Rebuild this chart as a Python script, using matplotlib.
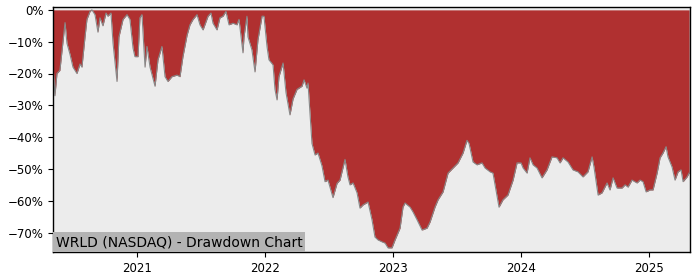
import matplotlib
matplotlib.use("Agg")
import matplotlib.pyplot as plt
from matplotlib.ticker import FuncFormatter

# time as fractional year, drawdown in percent
years = [
    2020.344, 2020.359, 2020.375, 2020.398, 2020.414, 2020.438, 2020.453, 2020.477, 2020.500, 2020.531,
    2020.555, 2020.570, 2020.594, 2020.609, 2020.633, 2020.648, 2020.672, 2020.695, 2020.711, 2020.734,
    2020.758, 2020.773, 2020.797, 2020.813, 2020.844, 2020.859, 2020.891, 2020.922, 2020.945, 2020.969,
    2020.984, 2021.008, 2021.023, 2021.039, 2021.063, 2021.078, 2021.102, 2021.141, 2021.164, 2021.195,
    2021.219, 2021.242, 2021.273, 2021.313, 2021.336, 2021.359, 2021.391, 2021.414, 2021.438, 2021.469,
    2021.492, 2021.516, 2021.555, 2021.578, 2021.594, 2021.625, 2021.648, 2021.672, 2021.695, 2021.719,
    2021.750, 2021.781, 2021.797, 2021.828, 2021.836, 2021.859, 2021.867, 2021.898, 2021.922, 2021.945,
    2021.977, 2021.992, 2022.016, 2022.031, 2022.063, 2022.078, 2022.094, 2022.109, 2022.141, 2022.164,
    2022.195, 2022.219, 2022.250, 2022.289, 2022.305, 2022.328, 2022.336, 2022.367, 2022.391, 2022.414,
    2022.445, 2022.469, 2022.492, 2022.531, 2022.563, 2022.586, 2022.625, 2022.648, 2022.664, 2022.688,
    2022.719, 2022.742, 2022.766, 2022.805, 2022.836, 2022.859, 2022.883, 2022.914, 2022.938, 2022.961,
    2022.992, 2023.016, 2023.055, 2023.078, 2023.094, 2023.133, 2023.156, 2023.188, 2023.227, 2023.266,
    2023.289, 2023.328, 2023.352, 2023.391, 2023.430, 2023.469, 2023.508, 2023.547, 2023.578, 2023.594,
    2023.625, 2023.656, 2023.695, 2023.719, 2023.758, 2023.781, 2023.813, 2023.828, 2023.859, 2023.898,
    2023.938, 2023.969, 2024.000, 2024.016, 2024.047, 2024.070, 2024.094, 2024.125, 2024.164, 2024.203,
    2024.242, 2024.281, 2024.305, 2024.328, 2024.367, 2024.406, 2024.445, 2024.484, 2024.523, 2024.555,
    2024.570, 2024.602, 2024.633, 2024.672, 2024.695, 2024.719, 2024.750, 2024.789, 2024.813, 2024.836,
    2024.867, 2024.906, 2024.930, 2024.953, 2024.977, 2025.008, 2025.031, 2025.063, 2025.086, 2025.109,
    2025.133, 2025.148, 2025.180, 2025.203, 2025.227, 2025.250, 2025.266, 2025.297, 2025.313,
]
drawdown = [
    -17, -27, -20, -19, -13, -4, -10.5, -14, -18, -20,
    -17, -18, -8.5, -3, -0.5, 0, -1.5, -7, -2.5, -5,
    -1, -2, -1, -10.5, -22.5, -8.5, -3, -1.5, -3, -12,
    -14.7, -14.7, -2.5, -1.5, -18, -11.5, -18, -24, -15.7, -11.5,
    -21, -22.5, -21, -20.5, -21, -14.7, -8, -4.7, -3, -1.5,
    -4.7, -6.3, -2, -1, -4.2, -6.3, -2.5, -2, -0.5, -4.7,
    -4.2, -4.7, -3, -13.5, -8.5, -2, -8.5, -12.6, -19.5, -9.4,
    -2, -2, -11.6, -15.7, -17.3, -25, -28.3, -21, -16.7, -26,
    -33, -28, -25, -24, -22, -24.6, -23, -42, -45.6, -45,
    -49, -54, -53.5, -59, -54.5, -53.5, -47, -52.5, -55, -54.4,
    -57.5, -62.3, -61.3, -60.4, -66, -71.4, -72.3, -72.9, -73.3, -74.8,
    -74.8, -72.3, -68.6, -62, -60.7, -62, -63.5, -66, -69.2, -68.6,
    -66.7, -62, -59.7, -57.2, -51.3, -49.7, -48.1, -45, -41, -42,
    -47.8, -48.7, -48.1, -49.7, -50.9, -51.3, -58.7, -62, -59.7, -58.2,
    -53.5, -48.1, -48.1, -49.7, -51.3, -46.5, -48.7, -49.7, -52.8, -50.3,
    -46.2, -46.5, -48.1, -46.5, -47.8, -50.3, -50.9, -52.5, -50.9, -46.2,
    -49.4, -58.2, -57.5, -54.4, -56.6, -52.8, -56, -56, -55, -55.7,
    -53.5, -54.4, -53.5, -54, -57.2, -56.6, -56.6, -51.3, -46.5, -45,
    -43, -46.2, -49.4, -53.5, -50.9, -50.3, -54, -52.5, -51.3,
]
year_ticks = [2021, 2022, 2023, 2024, 2025]
pct_ticks = [0, -10, -20, -30, -40, -50, -60, -70]
title = "WRLD (NASDAQ) - Drawdown Chart"

fig = plt.figure(figsize=(7, 2.8), dpi=100)
ax = fig.add_axes([53/700, 28/280, 637/700, 245/280])
ax.set_facecolor("#ececec")
ax.fill_between(years, drawdown, 0, color="#b03030", linewidth=0)
ax.plot(years, drawdown, color="#888888", linewidth=0.8)

ax.set_xlim(2020.344, 2025.320)
ax.set_ylim(-76.1, 0.9)
ax.set_xticks(year_ticks)
ax.set_xticklabels([str(y) for y in year_ticks])
ax.set_yticks(pct_ticks)
ax.yaxis.set_major_formatter(FuncFormatter(lambda v, p: f"{int(round(v))}%".replace("-", "\u2212")))
ax.tick_params(labelsize=8.5, length=3.5, width=0.8)
for s in ax.spines.values():
    s.set_linewidth(1.0)

ax.text(0.0045, 0.012, title, transform=ax.transAxes, fontsize=10,
        ha="left", va="bottom", color="black",
        bbox=dict(boxstyle="square,pad=0.2", facecolor="#b3b3b3", edgecolor="none"))

fig.savefig("out.png", dpi=100)
